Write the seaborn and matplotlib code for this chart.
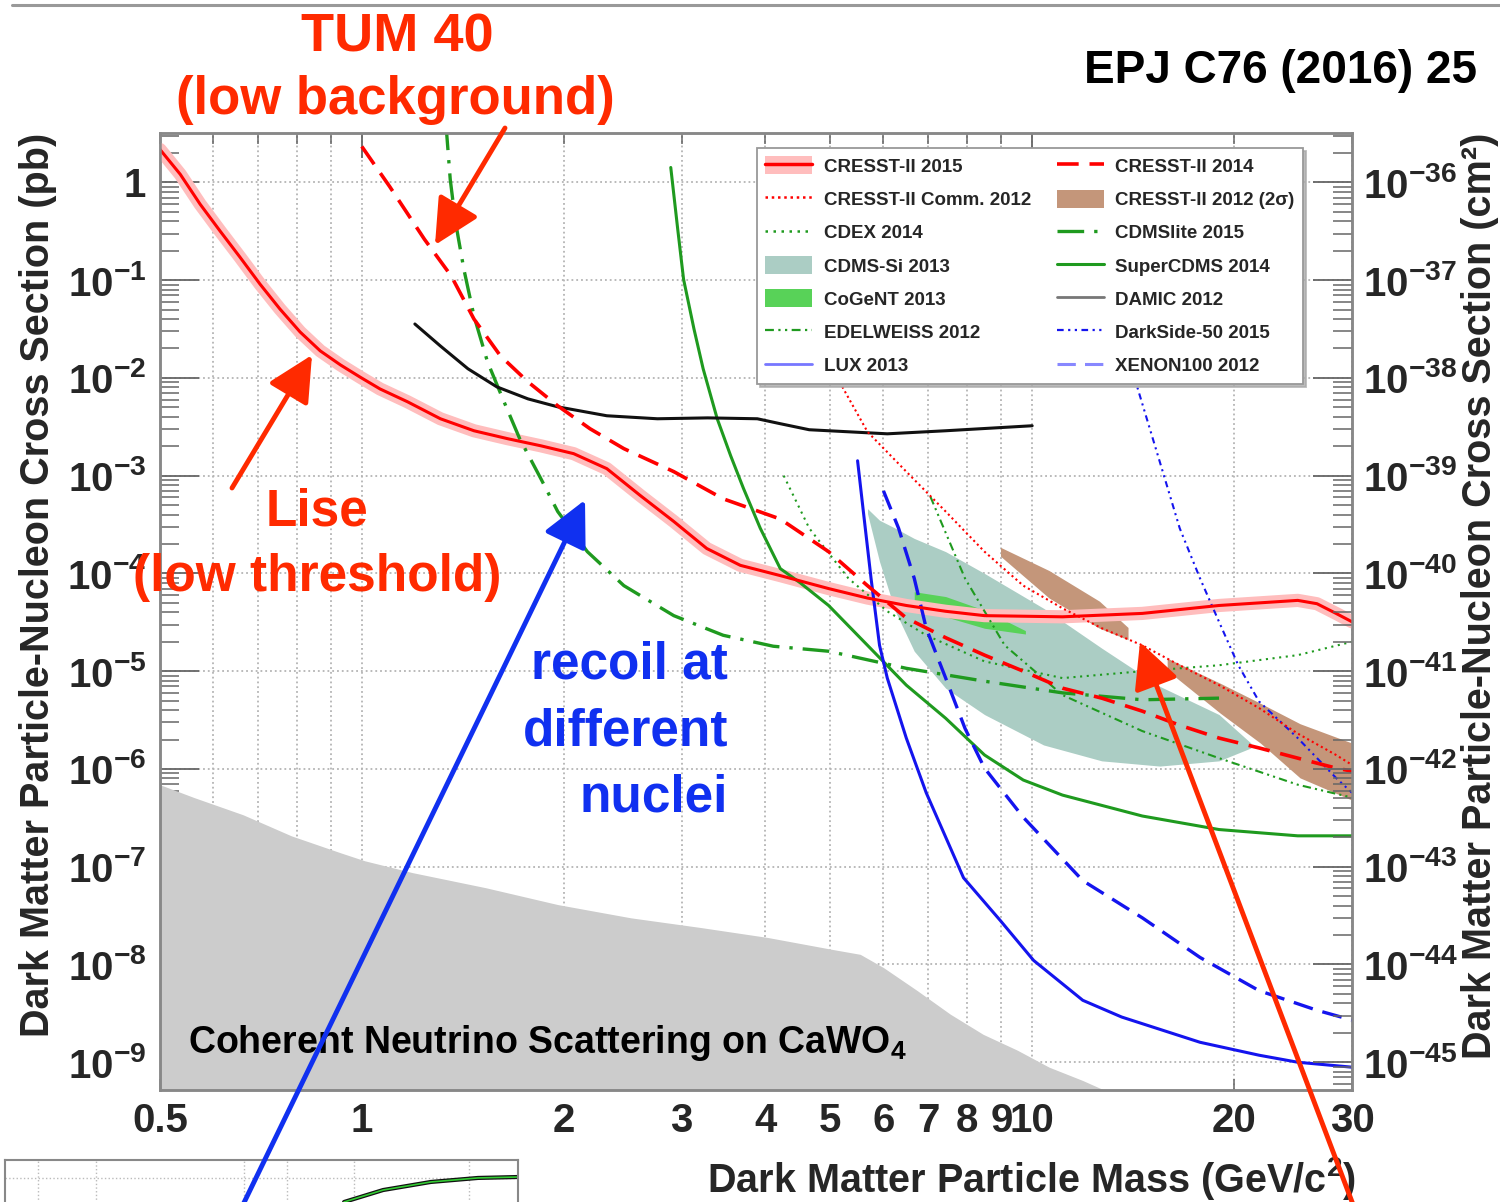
import numpy as np
import matplotlib
matplotlib.use('Agg')
import matplotlib.pyplot as plt
import seaborn as sns
from matplotlib.lines import Line2D
from matplotlib.patches import Patch, FancyArrowPatch, ArrowStyle
from matplotlib.ticker import LogLocator, NullFormatter

# ---- data: WIMP mass (GeV/c^2) and cross section (pb) ----
cresst15_m = [0.5, 0.536, 0.574, 0.615, 0.658, 0.705, 0.755, 0.809, 0.867, 0.929, 0.994, 1.065, 1.17,
              1.31, 1.47, 1.65, 1.85, 2.07, 2.32, 2.60, 2.92, 3.27, 3.67, 4.21, 4.97, 5.68, 6.49,
              7.43, 8.49, 11.1, 14.6, 19.0, 24.9, 26.6, 28.4, 30.0]
cresst15_s = [2.17, 1.21, 0.597, 0.316, 0.172, 0.091, 0.0506, 0.0295, 0.0189, 0.0136, 0.0102, 0.0077,
              0.0057, 0.00382, 0.00288, 0.00239, 0.00202, 0.00168, 0.00118, 6.3e-4, 3.4e-4, 1.8e-4,
              1.21e-4, 9.5e-5, 7.0e-5, 5.6e-5, 4.7e-5, 4.1e-5, 3.7e-5, 3.6e-5, 3.9e-5, 4.7e-5,
              5.3e-5, 4.9e-5, 3.9e-5, 3.2e-5]

cresst14_m = [1.0, 1.10, 1.24, 1.36, 1.47, 1.61, 1.77, 1.96, 2.19, 2.46, 2.92, 3.46, 4.21, 4.97,
              5.68, 6.49, 7.43, 8.49, 9.7, 11.1, 12.7, 14.6, 16.6, 19.0, 21.8, 24.9, 28.4, 30.0]
cresst14_s = [2.33, 0.91, 0.262, 0.110, 0.040, 0.0168, 0.0091, 0.00518, 0.00302, 0.00189, 0.0011,
              5.8e-4, 3.6e-4, 1.67e-4, 7.5e-5, 3.5e-5, 2.2e-5, 1.46e-5, 1.0e-5, 6.7e-6, 5.3e-6,
              3.9e-6, 2.8e-6, 2.07e-6, 1.64e-6, 1.29e-6, 1.02e-6, 9.5e-7]

comm12_m = [4.35, 5.18, 5.68, 6.49, 7.43, 8.49, 9.7, 11.1, 12.7, 14.6, 16.6, 19.0, 21.8, 24.9, 28.4, 30.0]
comm12_s = [0.0316, 0.00869, 0.00281, 0.0011, 4.3e-4, 1.67e-4, 7.5e-5, 4.4e-5, 2.75e-5, 1.84e-5,
            1.15e-5, 7.2e-6, 4.2e-6, 2.3e-6, 1.39e-6, 1.1e-6]

cresst12a_m = [8.97, 10.6, 12.6, 13.9]
cresst12a_lo = [1.5e-4, 5.6e-5, 2.75e-5, 2.1e-5]
cresst12a_hi = [1.85e-4, 1.07e-4, 5.2e-5, 2.8e-5]
cresst12b_m = [15.9, 19.1, 21.9, 25.1, 30.0]
cresst12b_lo = [1.02e-5, 3.7e-6, 1.84e-6, 8.1e-7, 4.8e-7]
cresst12b_hi = [1.36e-5, 7.5e-6, 4.7e-6, 2.9e-6, 1.84e-6]

cdex_m = [4.26, 4.65, 5.32, 6.08, 6.95, 8.49, 11.1, 14.6, 19.0, 24.9, 30.0]
cdex_s = [1.0e-3, 2.9e-4, 8.9e-5, 4.1e-5, 2.33e-5, 1.26e-5, 8.5e-6, 1.0e-5, 1.15e-5, 1.46e-5, 2.0e-5]

edw_m = [7.05, 7.94, 9.1, 11.1, 14.6, 19.0, 24.9, 30.0]
edw_s = [6.1e-4, 8.9e-5, 1.84e-5, 5.7e-6, 2.44e-6, 1.29e-6, 6.9e-7, 5.1e-7]

cdmslite_m = [1.335, 1.355, 1.38, 1.42, 1.47, 1.54, 1.63, 1.72, 1.85, 1.96, 2.17, 2.46, 2.92, 3.46,
              4.11, 4.97, 6.49, 8.49, 11.1, 14.6, 19.0]
cdmslite_s = [4.0, 1.07, 0.39, 0.129, 0.043, 0.0146, 0.0057, 0.00239, 9.3e-4, 4.3e-4, 1.67e-4,
              7.5e-5, 3.7e-5, 2.33e-5, 1.8e-5, 1.6e-5, 1.07e-5, 7.9e-6, 6.0e-6, 5.1e-6, 5.3e-6]

scdms_m = [2.89, 2.96, 3.02, 3.13, 3.23, 3.39, 3.55, 3.71, 3.93, 4.21, 4.51, 4.97, 5.68, 6.49, 7.43,
           8.49, 9.7, 11.1, 14.6, 19.0, 24.9, 30.0]
scdms_s = [1.42, 0.331, 0.102, 0.0316, 0.0124, 0.00382, 0.0016, 7.4e-4, 2.9e-4, 1.12e-4, 8.0e-5,
           4.7e-5, 1.84e-5, 7.2e-6, 3.3e-6, 1.39e-6, 7.7e-7, 5.4e-7, 3.3e-7, 2.4e-7, 2.07e-7, 2.07e-7]

damic_m = [1.20, 1.31, 1.44, 1.59, 1.77, 1.96, 2.32, 2.76, 3.28, 3.89, 4.21, 4.65, 6.08, 7.43, 10.0]
damic_s = [0.0356, 0.0212, 0.0124, 0.0081, 0.0061, 0.00506, 0.0041, 0.00382, 0.0039, 0.00382,
           0.0034, 0.00295, 0.00268, 0.00288, 0.00324]

cdmssi_m = [5.68, 5.92, 6.25, 6.67, 7.43, 8.49, 10.4, 12.7, 15.5, 19.0, 21.2]
cdmssi_hi = [4.6e-4, 3.5e-4, 2.9e-4, 2.28e-4, 1.67e-4, 1.0e-4, 4.4e-5, 1.72e-5, 7.0e-6, 3.6e-6, 1.84e-6]
cdmssi_lo = [4.1e-4, 1.32e-4, 4.1e-5, 1.6e-5, 6.7e-6, 3.6e-6, 1.76e-6, 1.21e-6, 1.07e-6, 1.21e-6, 1.64e-6]

cogent_m = [6.67, 7.43, 8.49, 9.77]
cogent_hi = [6.5e-5, 5.8e-5, 4.2e-5, 2.6e-5]
cogent_lo = [5.3e-5, 3.6e-5, 2.75e-5, 2.4e-5]

ds50_m = [13.3, 14.3, 15.5, 16.6, 17.8, 19.0, 20.3, 21.8, 24.9, 28.4, 30.0]
ds50_s = [0.0316, 8.7e-3, 1.39e-3, 2.9e-4, 8.9e-5, 3.2e-5, 1.15e-5, 4.9e-6, 2.07e-6, 8.1e-7, 5.7e-7]

lux_m = [5.49, 5.60, 5.75, 5.92, 6.08, 6.49, 6.95, 7.90, 8.97, 10.05, 11.9, 13.6, 17.8, 21.8, 24.9, 30.0]
lux_s = [1.42e-3, 4.3e-4, 8.9e-5, 1.84e-5, 8.5e-6, 2.07e-6, 5.7e-7, 7.7e-8, 2.8e-8, 1.1e-8, 4.3e-9,
         2.9e-9, 1.6e-9, 1.18e-9, 1.0e-9, 8.9e-10]

xe100_m = [6.0, 6.32, 6.67, 6.95, 7.43, 7.94, 8.49, 9.7, 11.9, 14.6, 17.8, 21.8, 26.6, 30.0]
xe100_s = [7.0e-4, 2.9e-4, 8.9e-5, 2.75e-5, 8.5e-6, 2.6e-6, 1.02e-6, 3.2e-7, 7.2e-8, 3.0e-8, 1.18e-8,
           5.4e-9, 3.4e-9, 2.7e-9]

nu_m = [0.5, 0.562, 0.665, 0.785, 0.929, 1.01, 1.19, 1.53, 1.96, 2.52, 3.20, 4.03, 5.05, 5.54, 6.0,
        6.74, 7.55, 8.45, 9.5, 10.6, 11.9, 12.8, 13.8]
nu_s = [6.9e-7, 5.1e-7, 3.4e-7, 2.07e-7, 1.39e-7, 1.15e-7, 8.7e-8, 6.1e-8, 4.1e-8, 3.0e-8, 2.39e-8,
        1.89e-8, 1.42e-8, 1.27e-8, 9.3e-9, 5.4e-9, 3.1e-9, 1.93e-9, 1.33e-9, 8.9e-10, 6.5e-10,
        5.2e-10, 4.0e-10]

xtick_major = [1, 10]
xtick_minor = [0.5, 0.6, 0.7, 0.8, 0.9, 2, 3, 4, 5, 6, 7, 8, 9, 20, 30]
xtick_minor_labels = ['0.5', '', '', '', '', '2', '3', '4', '5', '6', '7', '8', '9', '20', '30']
ytick_pb = [1, 1e-1, 1e-2, 1e-3, 1e-4, 1e-5, 1e-6, 1e-7, 1e-8, 1e-9]
ytick_pb_labels = ['1'] + [rf'$10^{{-{i}}}$' for i in range(1, 10)]
ytick_cm = [10.0 ** -i for i in range(36, 46)]
ytick_cm_labels = [rf'$10^{{-{i}}}$' for i in range(36, 46)]

# bottom-left inset fragment (axes fraction)
inset_x = [0.661, 0.737, 0.830, 0.922, 0.998]
inset_y = [0.677, 0.769, 0.831, 0.862, 0.869]

# ---- style ----
sns.set_style('ticks')
plt.rcParams['font.family'] = ['Liberation Sans', 'DejaVu Sans']
plt.rcParams['font.weight'] = 'bold'
plt.rcParams['axes.labelweight'] = 'bold'
plt.rcParams['mathtext.fontset'] = 'custom'
plt.rcParams['mathtext.rm'] = 'Liberation Sans:bold'
plt.rcParams['mathtext.it'] = 'Liberation Sans:bold'
plt.rcParams['mathtext.bf'] = 'Liberation Sans:bold'

RED = '#ff0000'
PINK = '#ffbdbd'
GREEN = '#1f9a1f'
BLUE = '#1414ee'
BROWN = '#c4967a'
TEAL = '#abcdc4'
COGENT = '#58d258'
ANNO_RED = '#ff2a00'
ANNO_BLUE = '#1030f0'

W, H = 1500, 1202
fig = plt.figure(figsize=(15, 12.02), dpi=100)
fig.patch.set_facecolor('white')


def fx(px):
    return px / W


def fy(py):
    return 1 - py / H


ax = fig.add_axes([fx(160), fy(1090), 1192 / W, 957 / H])
ax.set_xscale('log')
ax.set_yscale('log')

# filled regions
ax.fill_between(nu_m, 1e-12, nu_s, color='#cccccc', lw=0, zorder=1)
ax.fill_between(cdmssi_m, cdmssi_lo, cdmssi_hi, color=TEAL, lw=0, zorder=2)
ax.fill_between(cogent_m, cogent_lo, cogent_hi, color=COGENT, lw=0, zorder=2.5)
ax.fill_between(cresst12a_m, cresst12a_lo, cresst12a_hi, color=BROWN, lw=0, zorder=3)
ax.fill_between(cresst12b_m, cresst12b_lo, cresst12b_hi, color=BROWN, lw=0, zorder=3)


def curve(m, s, **kw):
    sns.lineplot(x=m, y=s, ax=ax, errorbar=None, sort=False, **kw)


# CRESST-II 2015 band drawn as a wide pale stroke under the limit
curve(cresst15_m, cresst15_s, color=PINK, lw=9.5, zorder=3.2, solid_joinstyle='round')
curve(cresst15_m, cresst15_s, color=RED, lw=2.2, zorder=5)
curve(cresst14_m, cresst14_s, color=RED, lw=2.6, linestyle=(0, (6, 3)), zorder=5)
curve(comm12_m, comm12_s, color=RED, lw=1.5, linestyle=(0, (1, 1.5)), zorder=5)
curve(cdex_m, cdex_s, color=GREEN, lw=1.5, linestyle=(0, (1, 2.2)), zorder=4)
curve(edw_m, edw_s, color=GREEN, lw=1.5, linestyle=(0, (4, 2, 1, 2, 1, 2)), zorder=4)
curve(cdmslite_m, cdmslite_s, color=GREEN, lw=2.4, linestyle=(0, (8, 3, 1, 3)), zorder=4)
curve(scdms_m, scdms_s, color=GREEN, lw=2.2, zorder=4)
curve(damic_m, damic_s, color='#111111', lw=2.2, zorder=4)
curve(ds50_m, ds50_s, color=BLUE, lw=1.5, linestyle=(0, (3, 2, 1, 2, 1, 2)), zorder=4)
curve(lux_m, lux_s, color=BLUE, lw=2.2, zorder=4)
curve(xe100_m, xe100_s, color=BLUE, lw=2.4, linestyle=(0, (6, 3)), zorder=4)

ax.set_xlim(0.5, 30)
ax.set_ylim(5.2e-10, 3.2)

# axes, ticks and grid (ROOT-like)
ax.set_xticks(xtick_major, labels=['1', '10'])
ax.set_xticks(xtick_minor, labels=xtick_minor_labels, minor=True)
ax.set_yticks(ytick_pb, labels=ytick_pb_labels)
ax.yaxis.set_minor_locator(LogLocator(base=10, subs=np.arange(2, 10), numticks=100))
ax.yaxis.set_minor_formatter(NullFormatter())
ax.grid(True, which='major', axis='both', ls=':', color='#b4b4b4', lw=1.3, zorder=0.5)
ax.grid(True, which='minor', axis='x', ls=':', color='#b4b4b4', lw=1.3, zorder=0.5)
ax.set_axisbelow(True)
ax.tick_params(axis='y', which='major', direction='in', length=28, width=1.3, color='#666666',
               left=True, right=False, labelsize=29, pad=10)
ax.tick_params(axis='y', which='minor', direction='in', length=14, width=1.1, color='#666666',
               left=True, right=False)
ax.tick_params(axis='x', which='major', direction='in', length=18, width=1.3, color='#666666',
               top=True, bottom=True, labelsize=29, pad=9)
ax.tick_params(axis='x', which='minor', direction='in', length=8, width=1.1, color='#666666',
               top=True, bottom=True, labelsize=29, pad=9)
for sp in ax.spines.values():
    sp.set_visible(True)
    sp.set_color('#888888')
    sp.set_linewidth(1.8)

ax.set_ylabel('Dark Matter Particle-Nucleon Cross Section (pb)', fontsize=28.5, loc='top')
ax.yaxis.set_label_coords(-0.086, 1.0)
ax.set_xlabel('Dark Matter Particle Mass (GeV/c$^2$)', fontsize=28.5, loc='right')
ax.xaxis.set_label_coords(1.003, -0.068)

ax2 = ax.twinx()
ax2.set_yscale('log')
ax2.set_ylim(5.2e-10 * 1e-36, 3.2e-36)
ax2.set_yticks(ytick_cm, labels=ytick_cm_labels)
ax2.yaxis.set_minor_locator(LogLocator(base=10, subs=np.arange(2, 10), numticks=100))
ax2.yaxis.set_minor_formatter(NullFormatter())
ax2.tick_params(axis='y', which='major', direction='in', length=28, width=1.3, color='#666666',
                labelsize=29, pad=8)
ax2.tick_params(axis='y', which='minor', direction='in', length=14, width=1.1, color='#666666')
for sp in ax2.spines.values():
    sp.set_color('#888888')
    sp.set_linewidth(1.8)
ax2.set_ylabel('Dark Matter Particle-Nucleon Cross Section (cm²)', fontsize=28.5, loc='top')
ax2.yaxis.set_label_coords(1.0915, 1.0)

# legend
handles = [
    (Patch(facecolor=PINK, edgecolor='none'), Line2D([], [], color=RED, lw=2.5)),
    Line2D([], [], color=RED, lw=1.8, linestyle=(0, (1, 1.5))),
    Line2D([], [], color=GREEN, lw=1.8, linestyle=(0, (1, 2.2))),
    Patch(facecolor=TEAL, edgecolor='none'),
    Patch(facecolor=COGENT, edgecolor='none'),
    Line2D([], [], color=GREEN, lw=1.6, linestyle=(0, (4, 2, 1, 2, 1, 2))),
    Line2D([], [], color='#7777ff', lw=2),
    Line2D([], [], color=RED, lw=2.6, linestyle=(0, (6, 3))),
    Patch(facecolor=BROWN, edgecolor='none'),
    Line2D([], [], color=GREEN, lw=2.4, linestyle=(0, (8, 3, 1, 3))),
    Line2D([], [], color=GREEN, lw=2.2),
    Line2D([], [], color='#777777', lw=2),
    Line2D([], [], color=BLUE, lw=1.6, linestyle=(0, (3, 2, 1, 2, 1, 2))),
    Line2D([], [], color='#8888ff', lw=2.2, linestyle=(0, (6, 3))),
]
labels = ['CRESST-II 2015', 'CRESST-II Comm. 2012', 'CDEX 2014', 'CDMS-Si 2013', 'CoGeNT 2013',
          'EDELWEISS 2012', 'LUX 2013', 'CRESST-II 2014', 'CRESST-II 2012 (2σ)', 'CDMSlite 2015',
          'SuperCDMS 2014', 'DAMIC 2012', 'DarkSide-50 2015', 'XENON100 2012']
leg = ax2.legend(handles, labels, ncol=2, loc='upper left',
                 bbox_to_anchor=((757 - 160) / 1192, (1090 - 148) / 957), borderaxespad=0,
                 prop={'size': 13.5, 'weight': 'bold'}, handlelength=2.5, handleheight=1.1,
                 handletextpad=0.6, columnspacing=1.4, labelspacing=0.74, borderpad=0.45,
                 frameon=True, fancybox=False, shadow={'color': '#aaaaaa', 'alpha': 0.8})
leg.get_frame().set_edgecolor('#999999')
leg.get_frame().set_linewidth(1.3)

# bottom-left inset fragment
ins = fig.add_axes([fx(5), fy(1290), 513 / W, 130 / H])
ins.set_xlim(0, 1)
ins.set_ylim(0, 1)
for gx in [0.064, 0.177, 0.466, 0.550, 0.680, 0.905]:
    ins.axvline(gx, color='#bbbbbb', lw=1, ls=':')
ins.axhline(0.865, color='#bbbbbb', lw=1, ls=':')
sns.lineplot(x=inset_x, y=inset_y, ax=ins, color='#111111', lw=3, errorbar=None, sort=False)
sns.lineplot(x=inset_x, y=inset_y, ax=ins, color='#33cc33', lw=1.2, errorbar=None, sort=False)
ins.set_xticks([])
ins.set_yticks([])
for sp in ins.spines.values():
    sp.set_color('#888888')
    sp.set_linewidth(1.5)

# annotations
fig.add_artist(Line2D([fx(12), fx(1500)], [fy(5), fy(5)], color='#999999', lw=2.2))
fig.text(fx(397), fy(52), 'TUM 40', ha='center', va='baseline', fontsize=39, color=ANNO_RED)
fig.text(fx(395), fy(114), '(low background)', ha='center', va='baseline', fontsize=38, color=ANNO_RED)
fig.text(fx(1477), fy(83), 'EPJ C76 (2016) 25', ha='right', va='baseline', fontsize=33, color='black')
fig.text(fx(317), fy(525), 'Lise', ha='center', va='baseline', fontsize=37, color=ANNO_RED)
fig.text(fx(317), fy(591), '(low threshold)', ha='center', va='baseline', fontsize=37, color=ANNO_RED)
for txt, by in [('recoil at', 678), ('different', 745), ('nuclei', 812)]:
    fig.text(fx(728), fy(by), txt, ha='right', va='baseline', fontsize=37, color=ANNO_BLUE)
fig.text(fx(188), fy(1053), 'Coherent Neutrino Scattering on CaWO$_4$', ha='left', va='baseline',
         fontsize=27, color='black')

head = ArrowStyle('-|>', head_length=1.0, head_width=0.5)
arrows = [((505, 128), (435, 245), ANNO_RED),
          ((232, 488), (312, 355), ANNO_RED),
          ((238, 1215), (585, 500), ANNO_BLUE),
          ((1357, 1215), (1140, 642), ANNO_RED)]
for (x0, y0), (x1, y1), col in arrows:
    fig.add_artist(FancyArrowPatch((fx(x0), fy(y0)), (fx(x1), fy(y1)), transform=fig.transFigure,
                                   arrowstyle=head, mutation_scale=28, lw=3.5, color=col,
                                   shrinkA=0, shrinkB=0, zorder=10))

fig.savefig('out.png', dpi=100)
